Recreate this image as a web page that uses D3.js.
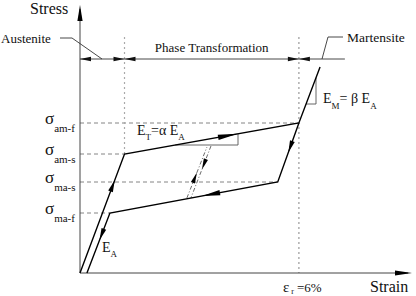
<!DOCTYPE html>
<html>
<head>
<meta charset="utf-8">
<script src="https://cdn.jsdelivr.net/npm/d3@7"></script>
<style>
  html, body { margin: 0; padding: 0; background: #fff; }
</style>
</head>
<body>
<svg id="chart" width="416" height="296"></svg>
<script>
// strain in %, stress in MPa (schematic)
const loadStrain = [0, 1.22, 6.0, 6.58];
const loadStress = [0, 297.5, 375, 515];
const unloadStrain = [6.0, 5.42, 0.82, 0.19];
const unloadStress = [375, 227.5, 150, 0];

// partial unloading / reloading inside the loop
const innerDownStrain = [3.59, 3.04];
const innerDownStress = [317.5, 187.5];
const innerUpStrain = [2.93, 3.48];
const innerUpStress = [187.5, 315];

const levelNames = ["am-f", "am-s", "ma-s", "ma-f"];
const levelStress = [375, 297.5, 227.5, 150];
const levelStrain = [6.0, 1.22, 5.42, 0.82];

const phaseStrain = [0, 1.22, 6.0, 7.26];
const phaseNames = ["Austenite", "Phase Transformation", "Martensite"];
const dimStress = 535;
const guideTop = 590;
const epsR = 6;

const axisMax = {strain: 9.1, stress: 670};

const FONT = "'Liberation Serif', 'Times New Roman', Times, 'DejaVu Serif', serif";

const svg = d3.select("#chart")
    .attr("font-family", FONT);
const x = d3.scaleLinear().domain([0, axisMax.strain]).range([80, 412]);
const y = d3.scaleLinear().domain([0, axisMax.stress]).range([273, 5]);

const line = d3.line().x(d => x(d[0])).y(d => y(d[1]));
const zip = (a, b) => a.map((v, i) => [v, b[i]]);

// arrowhead along segment a->b at fraction t (pixel space)
function arrowHead(g, a, b, t, len, w, fill) {
    let dx = b[0] - a[0], dy = b[1] - a[1];
    let L = Math.hypot(dx, dy);
    let ux = dx / L, uy = dy / L;
    let tip = [a[0] + dx * t, a[1] + dy * t];
    let bx = tip[0] - ux * len, by = tip[1] - uy * len;
    g.append("path")
        .attr("d", d3.line()([tip, [bx - uy * w, by + ux * w], [bx + uy * w, by - ux * w]]) + "Z")
        .attr("fill", fill || "#000");
}
const px = p => [x(p[0]), y(p[1])];

function label(xp, yp, size) {
    return svg.append("text").attr("x", xp).attr("y", yp)
        .attr("font-family", FONT).attr("font-size", size).attr("fill", "#111");
}

// dashed stress levels
levelStress.forEach((s, i) => {
    svg.append("line")
        .attr("x1", x(0)).attr("x2", x(levelStrain[i]))
        .attr("y1", y(s)).attr("y2", y(s))
        .attr("stroke", "#666").attr("stroke-width", 0.8)
        .attr("stroke-dasharray", "4,3");
    let t = label(45, y(s) + 0.5, 17);
    t.append("tspan").text("σ");
    t.append("tspan").attr("font-size", 11).attr("dy", 8).text(levelNames[i]);
});

// dotted phase boundaries
svg.append("line")
    .attr("x1", x(phaseStrain[1])).attr("x2", x(phaseStrain[1]))
    .attr("y1", y(guideTop)).attr("y2", y(levelStress[1]))
    .attr("stroke", "#aaa").attr("stroke-width", 1.2).attr("stroke-dasharray", "2,3");
svg.append("line")
    .attr("x1", x(epsR)).attr("x2", x(epsR))
    .attr("y1", y(guideTop)).attr("y2", y(0))
    .attr("stroke", "#999").attr("stroke-width", 1.2).attr("stroke-dasharray", "2,3");

// axes
svg.append("line").attr("x1", x(0)).attr("x2", x(axisMax.strain) - 4)
    .attr("y1", y(0)).attr("y2", y(0)).attr("stroke", "#444").attr("stroke-width", 1);
svg.append("line").attr("x1", x(0)).attr("x2", x(0))
    .attr("y1", y(0)).attr("y2", y(axisMax.stress) + 4).attr("stroke", "#444").attr("stroke-width", 1);
arrowHead(svg, [x(0), y(0)], [x(axisMax.strain), y(0)], 1, 17, 2.6);
arrowHead(svg, [x(0), y(0)], [x(0), y(axisMax.stress)], 1, 16, 2.6);

label(30, 14, 16).text("Stress");
label(370, 292, 16).text("Strain");

let er = label(283, 292, 15);
er.append("tspan").text("ε");
er.append("tspan").attr("font-size", 8).attr("dy", 2).attr("dx", 2).text("r");
er.append("tspan").attr("font-size", 13).attr("dy", -2).attr("dx", 3).text("=6%");

// dimension line with phase labels
const dimY = y(dimStress);
svg.append("line").attr("x1", x(phaseStrain[0])).attr("x2", x(phaseStrain[3]))
    .attr("y1", dimY).attr("y2", dimY).attr("stroke", "#333").attr("stroke-width", 0.9);
const dimArrow = (from, to) => arrowHead(svg, [x(from), dimY], [x(to), dimY], 1, 11, 2.2, "#111");
dimArrow(phaseStrain[0] + 0.4, phaseStrain[0]);
dimArrow(phaseStrain[1] - 0.4, phaseStrain[1]);
dimArrow(phaseStrain[1] + 0.4, phaseStrain[1]);
dimArrow(phaseStrain[2] - 0.4, phaseStrain[2]);
dimArrow(phaseStrain[2] + 0.4, phaseStrain[2]);

label((x(phaseStrain[1]) + x(phaseStrain[2])) / 2, dimY - 7, 13)
    .attr("text-anchor", "middle").text(phaseNames[1]);

// leaders
svg.append("path").attr("d", d3.line()([[60, 38], [72, 38], [102, dimY]]))
    .attr("fill", "none").attr("stroke", "#333").attr("stroke-width", 0.9);
label(1, 43, 13).text(phaseNames[0]);
svg.append("path").attr("d", d3.line()([[322, dimY], [328, 37], [343, 37]]))
    .attr("fill", "none").attr("stroke", "#333").attr("stroke-width", 0.9);
label(347, 42, 13.5).text(phaseNames[2]);

// slope triangles
const load = zip(loadStrain, loadStress).map(px);
const unload = zip(unloadStrain, unloadStress).map(px);
{
    let a = load[1], b = load[2];
    let k = (b[1] - a[1]) / (b[0] - a[0]);
    let xr = 238, yb = 145;
    let xl = a[0] + (yb - a[1]) / k;
    let yt = a[1] + (xr - a[0]) * k;
    svg.append("path").attr("d", d3.line()([[xl, yb], [xr, yb], [xr, yt]]))
        .attr("fill", "none").attr("stroke", "#555").attr("stroke-width", 0.9);
}
{
    let a = load[2], b = load[3];
    let k = (b[0] - a[0]) / (b[1] - a[1]);
    let yb = 104, xr = 316;
    let xl = a[0] + (yb - a[1]) * k;
    let yt = a[1] + (xr - a[0]) / k;
    svg.append("path").attr("d", d3.line()([[xl, yb], [xr, yb], [xr, yt]]))
        .attr("fill", "none").attr("stroke", "#555").attr("stroke-width", 0.9);
}

// inner partial cycle
[[innerDownStrain, innerDownStress], [innerUpStrain, innerUpStress]].forEach(d => {
    svg.append("path").attr("d", line(zip(d[0], d[1])))
        .attr("fill", "none").attr("stroke", "#444").attr("stroke-width", 0.8)
        .attr("stroke-dasharray", "4,2,1,2");
});
{
    let dn = zip(innerDownStrain, innerDownStress).map(px);
    let up = zip(innerUpStrain, innerUpStress).map(px);
    arrowHead(svg, dn[0], dn[1], 0.45, 11, 2.2);
    arrowHead(svg, up[0], up[1], 0.5, 11, 2.2);
}

// main loop
svg.append("path").attr("d", line(zip(loadStrain, loadStress)))
    .attr("fill", "none").attr("stroke", "#000").attr("stroke-width", 1.4);
svg.append("path").attr("d", line(zip(unloadStrain, unloadStress)))
    .attr("fill", "none").attr("stroke", "#000").attr("stroke-width", 1.4);

arrowHead(svg, load[0], load[1], 0.78, 12, 2.5);
arrowHead(svg, load[1], load[2], 0.65, 20, 2.6);
arrowHead(svg, unload[0], unload[1], 0.5, 12, 2.5);
arrowHead(svg, unload[1], unload[2], 0.45, 18, 2.6);
arrowHead(svg, unload[2], unload[3], 0.45, 12, 2.5);

// modulus labels
function modLabel(xp, yp, parts) {
    let t = label(xp, yp, 14);
    parts.forEach(p => {
        t.append("tspan").attr("font-size", p[1] ? 9 : 14).attr("dy", p[2] || 0).text(p[0]);
    });
}
modLabel(137, 135, [["E"], ["T", 1, 5], ["=α E", 0, -5], ["A", 1, 5]]);
modLabel(323, 103, [["E"], ["M", 1, 6], ["= β E", 0, -6], ["A", 1, 6]]);
modLabel(102, 252, [["E"], ["A", 1, 5]]);
</script>
</body>
</html>
